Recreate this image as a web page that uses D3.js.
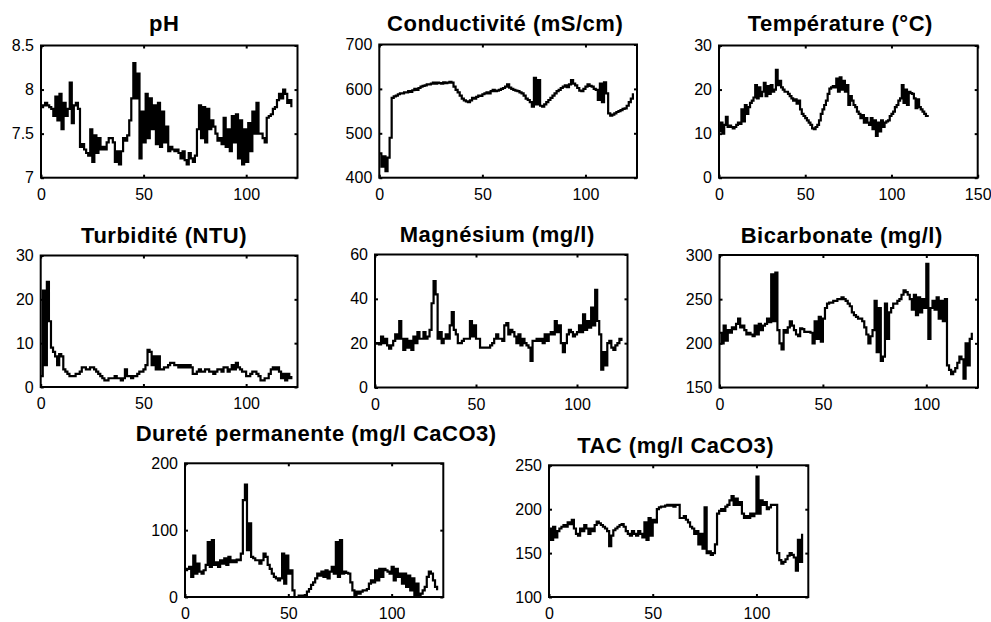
<!DOCTYPE html>
<html>
<head>
<meta charset="utf-8">
<script src="https://cdn.jsdelivr.net/npm/d3@7"></script>
<style>
  body { margin: 0; background: #fff; }
  svg { display: block; }
  .title { font-family: "Liberation Sans", Arial, sans-serif; font-weight: bold; font-size: 22px; letter-spacing: 0.5px; }
  .axis text { font-family: "Liberation Sans", Arial, sans-serif; font-size: 16px; fill: #000; }
  .axis line { stroke: #000; stroke-width: 2; }
</style>
</head>
<body>
<svg id="chart" width="991" height="622"></svg>
<script>
// Series values, one sample per x step
const phValues = [
  7.80, 7.82, 7.85, 7.82, 7.80, 7.78, 7.70, 7.92, 7.65, 7.95,
  7.55, 7.85, 7.70, 7.78, 8.08, 7.62, 7.82, 7.85, 7.78, 7.35,
  7.38, 7.32, 7.28, 7.25, 7.55, 7.18, 7.48, 7.28, 7.45, 7.32,
  7.35, 7.32, 7.40, 7.45, 7.45, 7.40, 7.18, 7.30, 7.15, 7.30,
  7.45, 7.42, 7.48, 7.65, 7.90, 8.30, 7.90, 8.18, 7.22, 7.75,
  7.40, 7.95, 7.45, 7.90, 7.55, 7.82, 7.38, 7.85, 7.35, 7.75,
  7.40, 7.58, 7.30, 7.35, 7.32, 7.30, 7.32, 7.28, 7.22, 7.30,
  7.20, 7.15, 7.28, 7.22, 7.18, 7.25, 7.55, 7.82, 7.45, 7.80,
  7.40, 7.78, 7.55, 7.65, 7.58, 7.50, 7.42, 7.45, 7.38, 7.68,
  7.35, 7.55, 7.30, 7.70, 7.40, 7.72, 7.22, 7.65, 7.15, 7.55,
  7.18, 7.62, 7.30, 7.75, 7.50, 7.85, 7.50, 7.50, 7.45, 7.40,
  7.68, 7.70, 7.72, 7.78, 7.80, 7.88, 7.95, 7.90, 8.00, 7.95,
  7.85, 7.88, 7.80
];

const conductivityValues = [
  455, 425, 448, 415, 445, 490, 580, 583, 585, 588,
  590, 590, 592, 592, 595, 593, 597, 600, 598, 602,
  605, 607, 608, 610, 610, 612, 614, 612, 614, 613,
  612, 615, 613, 614, 616, 614, 605, 598, 592, 585,
  578, 574, 572, 570, 574, 580, 578, 582, 585, 584,
  588, 590, 592, 590, 595, 598, 595, 596, 598, 600,
  602, 605, 610, 603, 600, 598, 596, 595, 592, 590,
  585, 578, 575, 570, 560, 625, 565, 620, 562, 560,
  565, 570, 575, 580, 585, 590, 595, 598, 602, 605,
  608, 604, 610, 620, 612, 608, 602, 596, 595, 600,
  605, 610, 607, 605, 600, 598, 575, 612, 570, 615,
  590, 545, 540, 542, 545, 548, 550, 552, 555, 556,
  562, 570, 578, 590
];

const temperatureValues = [
  10.5, 12.5, 10.0, 12.0, 13.8, 11.5, 11.8, 11.5, 11.2, 11.5,
  12.0, 12.5, 12.2, 15.5, 12.8, 16.5, 14.5, 16.0, 17.0, 17.5,
  18.2, 21.0, 18.0, 20.5, 18.5, 19.5, 21.5, 18.5, 20.8, 19.0,
  21.0, 19.5, 20.0, 24.5, 21.0, 22.0, 20.5, 20.0, 19.5, 19.5,
  19.0, 18.5, 18.0, 17.5, 17.8, 16.8, 17.5, 15.5, 14.5, 14.0,
  13.5, 13.0, 12.5, 12.0, 11.2, 11.0, 11.5, 12.0, 13.0, 14.5,
  15.5, 16.5, 17.5, 19.0, 20.2, 20.5, 20.8, 20.5, 22.5, 19.5,
  22.8, 20.0, 22.0, 19.5, 21.0, 16.5, 18.5, 17.5, 16.5, 16.0,
  15.0, 14.5, 13.5, 14.2, 12.5, 13.5, 12.5, 12.0, 13.5, 11.0,
  13.0, 9.5, 12.5, 10.5, 13.0, 11.5, 12.5, 12.8, 13.0, 14.0,
  14.5, 15.0, 16.0, 16.5, 17.5, 18.0, 21.0, 17.0, 20.0, 16.5,
  19.5, 19.2, 19.0, 18.0, 15.8, 17.8, 16.0, 15.5, 15.0, 14.5,
  14.0, 13.8
];

const turbidityValues = [
  2.5, 22, 5, 24, 15, 9, 8, 7, 5, 7.5,
  7, 4, 3.5, 3, 2.5, 2.5, 2.5, 3, 3, 3.5,
  4.5, 4.5, 4, 4, 4.5, 4.5, 4, 3.5, 3, 2.5,
  2, 1.5, 1.5, 2, 2, 2, 2.5, 2, 2, 1.5,
  2, 4, 2.5, 2.5, 2, 2.5, 2.5, 3, 3.5, 3.5,
  4, 5, 8.5, 8, 5, 7, 4, 7, 4, 4,
  4.5, 4.5, 5, 5.5, 5.5, 5, 5, 4.5, 5, 4.5,
  5, 4.5, 5, 4.5, 3, 3, 3.5, 4, 3.5, 3.5,
  4, 4, 3.5, 3.5, 3, 3.5, 4, 4, 3.5, 4.5,
  4.5, 3.5, 4, 5, 4, 5.5, 4.5, 4, 3.5, 3.5,
  2.5, 2.5, 3, 3.5, 3.5, 3, 2.5, 1.5, 1.5, 2,
  2, 3, 4, 4.5, 4, 4.5, 3.5, 2, 3, 1.5,
  3, 2, 2.5
];

const magnesiumValues = [
  20, 20, 19.5, 23, 20, 22, 19, 17.5, 19, 21,
  24, 22, 30, 22, 17, 22, 18, 21, 17, 23,
  20, 25, 22, 22, 25, 22, 23, 26, 38, 48,
  42, 22, 25, 20, 22, 24, 22, 28, 34, 26,
  24, 20, 20, 21, 22, 22, 22, 30, 23, 28,
  22, 22, 18, 18, 18, 18, 18, 19, 20, 22,
  24, 22, 22, 21, 28, 29, 24, 26, 25, 23,
  20, 24, 19, 22, 20, 19, 18, 12, 21, 21,
  22, 21, 22, 20, 24, 21, 24, 25, 24, 30,
  25, 28, 20, 16, 20, 24, 26, 25, 23, 24,
  25, 28, 25, 33, 26, 30, 27, 36, 28, 44,
  30, 24, 8, 16, 10, 20, 21, 18, 17, 19,
  20, 22, 21
];

const bicarbonateValues = [
  212, 200, 220, 203, 215, 212, 218, 216, 222, 228,
  218, 220, 215, 210, 212, 210, 208, 220, 210, 222,
  215, 220, 222, 228, 224, 278, 225, 280, 215, 200,
  193, 215, 212, 218, 225, 220, 215, 210, 208, 217,
  216, 213, 213, 213, 212, 200, 225, 205, 230, 202,
  228, 240, 245, 246, 246, 248, 248, 250, 250, 252,
  250, 248, 245, 242, 235, 232, 230, 228, 228, 225,
  218, 210, 200, 208, 215, 248, 190, 240, 180, 185,
  245, 205, 235, 240, 245, 245, 248, 250, 255, 260,
  258, 255, 250, 238, 255, 232, 252, 235, 250, 240,
  290, 205, 240, 248, 238, 252, 228, 248, 225, 250,
  175, 170, 165, 168, 172, 178, 185, 182, 160, 200,
  175, 205, 212
];

const durteteValues = [
  40, 42, 45, 30, 62, 35, 50, 38, 35, 40,
  48, 82, 45, 85, 48, 52, 45, 55, 50, 58,
  48, 60, 52, 55, 52, 56, 55, 65, 145, 168,
  70, 110, 60, 58, 55, 55, 50, 55, 65, 60,
  48, 42, 35, 30, 28, 25, 28, 65, 20, 62,
  35, 40, 10, 0, 0, 2, 2, 2, 3, 8,
  12, 18, 22, 28, 35, 32, 38, 30, 40, 28,
  38, 45, 35, 82, 30, 85, 35, 38, 36, 35,
  22, 10, 2, 8, 5, 8, 10, 10, 12, 20,
  25, 22, 40, 25, 42, 30, 42, 40, 38, 35,
  45, 25, 42, 30, 35, 20, 35, 15, 32, 10,
  28, 0, 20, 2, 5, 10, 15, 30, 38, 35,
  25, 15, 10
];

const tacValues = [
  178, 165, 180, 168, 175, 178, 180, 182, 180, 185,
  183, 188, 178, 172, 170, 178, 175, 182, 178, 172,
  178, 175, 182, 186, 184, 182, 180, 178, 175, 158,
  170, 176, 178, 180, 182, 183, 180, 175, 172, 170,
  175, 172, 170, 175, 172, 168, 185, 165, 190, 170,
  188, 185, 200, 202, 203, 203, 204, 205, 204, 205,
  203, 205, 205, 190, 190, 192, 188, 185, 180, 178,
  172, 175, 160, 172, 155, 202, 150, 152, 148, 150,
  160, 195, 198, 200, 198, 203, 205, 210, 215, 205,
  212, 205, 208, 195, 190, 192, 190, 195, 192, 195,
  237, 195, 210, 205, 208, 200, 202, 205, 205, 205,
  150, 142, 138, 140, 143, 147, 150, 148, 145, 130,
  165, 140, 172
];

const titles = [
  'pH', 'Conductivité (mS/cm)', 'Température (°C)',
  'Turbidité (NTU)', 'Magnésium (mg/l)', 'Bicarbonate (mg/l)',
  'Dureté permanente (mg/l CaCO3)', 'TAC (mg/l CaCO3)'
];
const series = [phValues, conductivityValues, temperatureValues, turbidityValues,
  magnesiumValues, bicarbonateValues, durteteValues, tacValues];
const xMaxes = [125, 125, 150, 125, 125, 125, 125, 125];
const xTickValues = [
  [0, 50, 100], [0, 50, 100], [0, 50, 100, 150],
  [0, 50, 100], [0, 50, 100], [0, 50, 100],
  [0, 50, 100], [0, 50, 100]
];
const yDomains = [[7, 8.5], [400, 700], [0, 30], [0, 30], [0, 60], [150, 300], [0, 200], [100, 250]];
const yTickValues = [
  [7, 7.5, 8, 8.5], [400, 500, 600, 700], [0, 10, 20, 30],
  [0, 10, 20, 30], [0, 20, 40, 60], [150, 200, 250, 300],
  [0, 100, 200], [100, 150, 200, 250]
];

// Axes boxes: left, top, right, bottom, title baseline, title x shift
const layout = [
  [41, 45.5, 297.5, 177.7, 31, -5],
  [379.3, 44.5, 637, 177.7, 31, -3],
  [719, 45.5, 977.7, 177.7, 31, -8],
  [40.7, 255.5, 297.5, 387, 243, -5],
  [375, 254.5, 627.5, 387.5, 242, -4],
  [719.5, 255, 978, 387.5, 242.5, -7],
  [185, 463.3, 443.3, 597, 441, 2],
  [549, 465.3, 808.3, 597, 453, -3]
];

const svg = d3.select('#chart');
const fmt = d3.format('~g');

series.forEach((values, k) => {
  const [left, top, right, bottom, titleY, titleDx] = layout[k];

  const x = d3.scaleLinear().domain([0, xMaxes[k]]).range([left, right]);
  const y = d3.scaleLinear().domain(yDomains[k]).range([bottom, top]);

  const g = svg.append('g');

  // Inward ticks on all four sides, labels only bottom and left
  g.append('g').attr('class', 'axis')
    .attr('transform', `translate(0,${bottom})`)
    .call(d3.axisBottom(x).tickValues(xTickValues[k]).tickFormat(fmt)
      .tickSizeInner(-3).tickSizeOuter(0).tickPadding(11))
    .call(a => a.select('.domain').remove());

  g.append('g').attr('class', 'axis')
    .attr('transform', `translate(0,${top})`)
    .call(d3.axisTop(x).tickValues(xTickValues[k]).tickFormat('')
      .tickSizeInner(-3).tickSizeOuter(0))
    .call(a => a.select('.domain').remove());

  g.append('g').attr('class', 'axis')
    .attr('transform', `translate(${left},0)`)
    .call(d3.axisLeft(y).tickValues(yTickValues[k]).tickFormat(fmt)
      .tickSizeInner(-3).tickSizeOuter(0).tickPadding(7))
    .call(a => a.select('.domain').remove());

  g.append('g').attr('class', 'axis')
    .attr('transform', `translate(${right},0)`)
    .call(d3.axisRight(y).tickValues(yTickValues[k]).tickFormat('')
      .tickSizeInner(-3).tickSizeOuter(0))
    .call(a => a.select('.domain').remove());

  // Box
  g.append('rect')
    .attr('x', left).attr('y', top)
    .attr('width', right - left).attr('height', bottom - top)
    .attr('fill', 'none').attr('stroke', '#000').attr('stroke-width', 2);

  // Data line, drawn as steps like the reference
  const line = d3.line()
    .x((d, i) => x(i))
    .y(d => y(d))
    .curve(d3.curveStepAfter);

  g.append('path')
    .datum(values)
    .attr('d', line)
    .attr('fill', 'none')
    .attr('stroke', '#000')
    .attr('stroke-width', 2.2)
    .attr('stroke-linejoin', 'miter');

  // Title
  g.append('text')
    .attr('class', 'title')
    .attr('x', (left + right) / 2 + titleDx)
    .attr('y', titleY)
    .attr('text-anchor', 'middle')
    .text(titles[k]);
});
</script>
</body>
</html>
